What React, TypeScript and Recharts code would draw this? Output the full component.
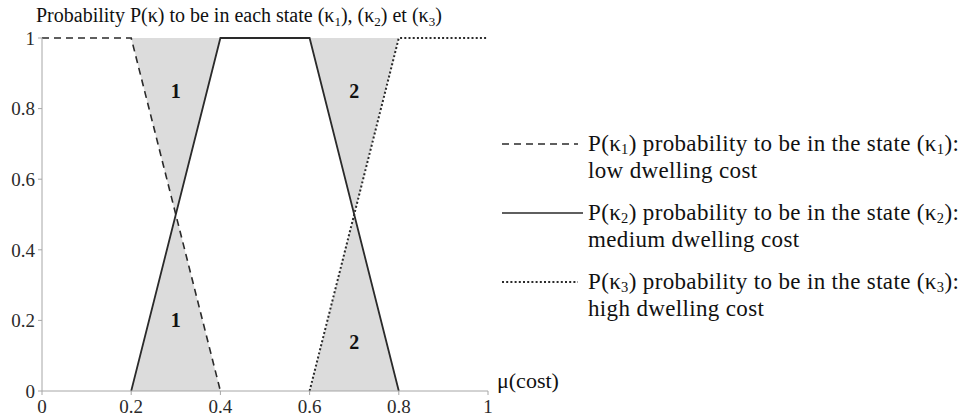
import React from 'react';
import { ComposedChart, Line, Area, Scatter, XAxis, YAxis } from 'recharts';

// ---- data ----
const xTicks = [0, 0.2, 0.4, 0.6, 0.8, 1];
const yTicks = [0, 0.2, 0.4, 0.6, 0.8, 1];

const pK1 = [
  { mu: 0, p: 1 },
  { mu: 0.2, p: 1 },
  { mu: 0.4, p: 0 },
];
const pK2 = [
  { mu: 0.2, p: 0 },
  { mu: 0.4, p: 1 },
  { mu: 0.6, p: 1 },
  { mu: 0.8, p: 0 },
];
const pK3 = [
  { mu: 0.6, p: 0 },
  { mu: 0.8, p: 1 },
  { mu: 1, p: 1 },
];

const shade1Top = [
  { mu: 0.2, band: [1, 1] },
  { mu: 0.3, band: [0.5, 1] },
  { mu: 0.4, band: [1, 1] },
];
const shade1Bottom = [
  { mu: 0.2, band: [0, 0] },
  { mu: 0.3, band: [0, 0.5] },
  { mu: 0.4, band: [0, 0] },
];
const shade2Top = [
  { mu: 0.6, band: [1, 1] },
  { mu: 0.7, band: [0.5, 1] },
  { mu: 0.8, band: [1, 1] },
];
const shade2Bottom = [
  { mu: 0.6, band: [0, 0] },
  { mu: 0.7, band: [0, 0.5] },
  { mu: 0.8, band: [0, 0] },
];

const zoneLabels = [
  { mu: 0.3, p: 0.85, tag: '1' },
  { mu: 0.3, p: 0.2, tag: '1' },
  { mu: 0.7, p: 0.85, tag: '2' },
  { mu: 0.7, p: 0.14, tag: '2' },
];

const legendSubs = ['1', '2', '3'];
const legendSecondLines = ['low dwelling cost', 'medium dwelling cost', 'high dwelling cost'];
const legendDashes = ['7 5', '', '2 2.2'];

const titleSegments: [string, boolean][] = [
  ['Probability P(κ) to be in each state (κ', false],
  ['1', true],
  ['), (κ', false],
  ['2', true],
  [') et (κ', false],
  ['3', true],
  [')', false],
];
const xAxisName = 'μ(cost)';

const FONT = "'Liberation Serif', 'DejaVu Serif', serif";
const INK = '#2a2a2a';
const AXIS = '#a6a6a6';
const SHADE = '#dcdcdc';

const fmt = (v: number) => String(v);

const LabelShape = (props: any) => {
  const { cx, cy, payload } = props;
  return (
    <text
      x={cx}
      y={cy}
      textAnchor="middle"
      dominantBaseline="central"
      fontFamily={FONT}
      fontWeight="bold"
      fontSize={20}
      fill="#111"
    >
      {payload.tag}
    </text>
  );
};

function renderSegments(segs: [string, boolean][], subSize: number, shift: number) {
  const out: React.ReactNode[] = [];
  let lowered = false;
  segs.forEach(([t, sub], i) => {
    let dy = 0;
    if (sub && !lowered) { dy = shift; lowered = true; }
    else if (!sub && lowered) { dy = -shift; lowered = false; }
    out.push(
      <tspan key={i} dy={dy || undefined} fontSize={sub ? subSize : undefined}>{t}</tspan>
    );
  });
  return out;
}

export default function App() {
  return (
    <div style={{ position: 'absolute', left: 0, top: 0, width: 965, height: 419, background: '#fff' }}>
      <ComposedChart
        width={965}
        height={419}
        margin={{ top: 38, right: 477, bottom: 0, left: 0 }}
      >
        <XAxis
          dataKey="mu"
          type="number"
          domain={[0, 1]}
          ticks={xTicks}
          tickFormatter={fmt}
          height={28}
          tickSize={4}
          tickMargin={5}
          stroke={AXIS}
          tick={{ fill: INK, fontFamily: FONT, fontSize: 19 }}
        />
        <YAxis
          yAxisId="left"
          type="number"
          domain={[0, 1]}
          ticks={yTicks}
          tickFormatter={fmt}
          width={42}
          tickSize={4}
          tickMargin={3}
          stroke={AXIS}
          tick={{ fill: INK, fontFamily: FONT, fontSize: 19 }}
        />
        <YAxis
          yAxisId="right"
          orientation="right"
          mirror
          type="number"
          domain={[0, 1]}
          ticks={yTicks}
          tickFormatter={() => ''}
          width={0}
          tickSize={4}
          stroke={AXIS}
        />
        <Area yAxisId="left" data={shade1Top} dataKey="band" type="linear" fill={SHADE} fillOpacity={1} stroke="none" isAnimationActive={false} />
        <Area yAxisId="left" data={shade1Bottom} dataKey="band" type="linear" fill={SHADE} fillOpacity={1} stroke="none" isAnimationActive={false} />
        <Area yAxisId="left" data={shade2Top} dataKey="band" type="linear" fill={SHADE} fillOpacity={1} stroke="none" isAnimationActive={false} />
        <Area yAxisId="left" data={shade2Bottom} dataKey="band" type="linear" fill={SHADE} fillOpacity={1} stroke="none" isAnimationActive={false} />
        <Line yAxisId="left" data={pK1} dataKey="p" type="linear" stroke={INK} strokeWidth={1.6} strokeDasharray="7 5" dot={false} activeDot={false} isAnimationActive={false} />
        <Line yAxisId="left" data={pK2} dataKey="p" type="linear" stroke={INK} strokeWidth={1.8} dot={false} activeDot={false} isAnimationActive={false} />
        <Line yAxisId="left" data={pK3} dataKey="p" type="linear" stroke={INK} strokeWidth={2} strokeDasharray="2 2.2" dot={false} activeDot={false} isAnimationActive={false} />
        <Scatter yAxisId="left" data={zoneLabels} dataKey="p" shape={LabelShape} isAnimationActive={false} />
      </ComposedChart>

      <svg
        width={965}
        height={419}
        style={{ position: 'absolute', left: 0, top: 0, pointerEvents: 'none' }}
      >
        <text x={36} y={21.5} fontFamily={FONT} fontSize={20} fill="#111">
          {renderSegments(titleSegments, 13, 4)}
        </text>
        <text x={497} y={388} fontFamily={FONT} fontSize={22} fill="#111">{xAxisName}</text>
        {legendSubs.map((s, i) => {
          const ly = 144 + i * 69;
          const segs: [string, boolean][] = [
            ['P(κ', false],
            [s, true],
            [') probability to be in the state (κ', false],
            [s, true],
            ['):', false],
          ];
          return (
            <g key={i}>
              <line
                x1={502}
                x2={i === 1 ? 583 : 578}
                y1={ly}
                y2={ly}
                stroke={INK}
                strokeWidth={i === 2 ? 2 : 1.7}
                strokeDasharray={legendDashes[i] || undefined}
              />
              <text x={588} y={ly + 7} fontFamily={FONT} fontSize={23} letterSpacing={0.35} fill="#111">
                {renderSegments(segs, 14.5, 3)}
              </text>
              <text x={588} y={ly + 34} fontFamily={FONT} fontSize={23} letterSpacing={0.35} fill="#111">
                {legendSecondLines[i]}
              </text>
            </g>
          );
        })}
      </svg>
    </div>
  );
}
